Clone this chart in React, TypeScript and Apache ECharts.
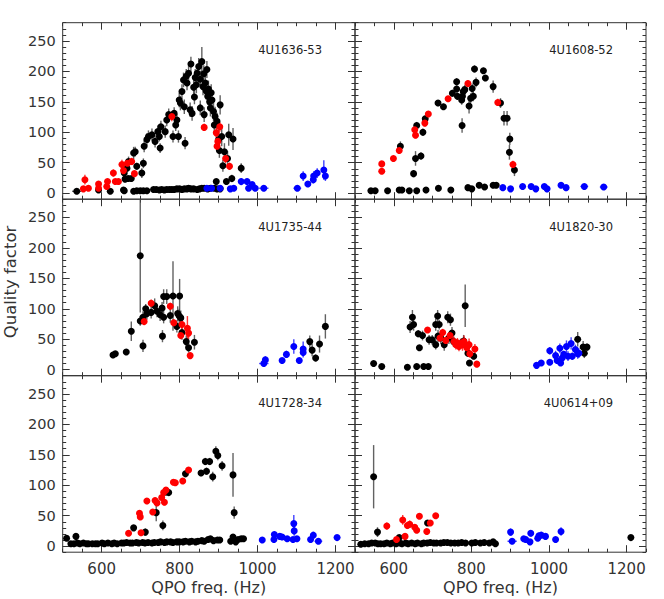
import React, { useEffect, useRef } from "react";
import * as echarts from "echarts";

const panelNames = ["4U1636-53", "4U1608-52", "4U1735-44", "4U1820-30", "4U1728-34", "4U0614+09"];
const xTickValues = [600, 800, 1000, 1200];
const yTickValues = [0, 50, 100, 150, 200, 250];
const xTitle = "QPO freq. (Hz)";
const yTitle = "Quality factor";

// rows: [freq (Hz), Q, dQ, dFreq]
const tlBlack = [
  [536, 3, 1, 12], [592, 5, 2], [622, 3, 2], [656, 5, 2], [658, 4, 2], [682, 3, 2], [690, 4, 2], [699, 4, 2], [707, 4, 2],
  [716, 4, 2], [733, 6, 2], [740, 6, 2], [748, 5, 2], [754, 6, 2], [761, 5, 2], [767, 6, 2], [774, 6, 2],
  [780, 6, 2], [786, 6, 2], [793, 7, 2], [800, 7, 2], [806, 6, 2], [812, 7, 2], [819, 7, 2], [823, 8, 2],
  [829, 7, 2], [836, 7, 2], [845, 6, 2], [851, 7, 2], [857, 8, 2], [863, 8, 2], [872, 7, 2], [879, 8, 2],
  [889, 8, 2], [896, 7, 2], [904, 7, 2],
  [660, 23, 4], [668, 24, 4], [676, 24, 4],
  [658, 33, 6], [665, 41, 6], [669, 52, 8], [682, 66, 10], [686, 68, 8], [690, 44, 6], [703, 33, 8], [707, 49, 8],
  [709, 77, 10], [716, 88, 10], [720, 93, 10], [729, 96, 10], [748, 93, 8], [750, 74, 8], [752, 109, 10],
  [763, 101, 10], [767, 120, 10], [772, 129, 10], [783, 93, 10], [786, 131, 10], [793, 120, 10], [797, 93, 10],
  [799, 153, 12], [802, 148, 12], [806, 167, 12], [810, 186, 12], [812, 142, 12], [814, 82, 10], [819, 181, 12],
  [823, 197, 12], [827, 137, 12], [829, 212, 12], [832, 131, 12], [836, 174, 14], [840, 190, 14], [845, 197, 14],
  [849, 208, 14], [853, 140, 12], [853, 187, 14], [857, 216, 24], [860, 175, 14], [863, 129, 12], [866, 181, 14],
  [870, 203, 14], [872, 159, 14], [874, 171, 14], [879, 140, 14], [883, 153, 16], [887, 134, 16], [891, 126, 16],
  [900, 88, 16], [904, 145, 16], [908, 93, 16], [915, 68, 14], [926, 96, 18], [937, 89, 18], [923, 57, 12],
  [911, 45, 10], [920, 19, 5], [934, 24, 6], [958, 41, 8], [894, 19, 4],
  [817, 192, 12], [843, 178, 14], [862, 196, 14], [868, 168, 14], [877, 150, 14], [881, 165, 14], [889, 112, 14],
  [896, 118, 14], [902, 70, 12], [838, 158, 12], [790, 112, 10], [744, 101, 10], [737, 85, 10],
];
const tlRed = [
  [553, 7, 3], [557, 22, 8], [566, 8, 3], [592, 15, 4], [592, 8, 3], [613, 11, 3], [615, 19, 4], [630, 33, 6],
  [635, 19, 4], [643, 19, 4], [652, 47, 8], [656, 37, 6], [666, 49, 6], [677, 52, 6], [684, 32, 4], [780, 126, 8],
  [863, 108, 6], [894, 99, 8], [896, 77, 6], [898, 85, 8], [903, 109, 8], [918, 57, 8], [928, 44, 6],
];
const tlBlue = [
  [870, 8, 2, 10], [882, 8, 2, 8], [904, 8, 2, 8], [930, 7, 2, 8], [939, 8, 2, 8], [958, 19, 6, 8], [973, 19, 5, 8],
  [977, 8, 2, 8], [986, 14, 4, 8], [994, 8, 2, 8], [1016, 8, 2, 12], [1102, 8, 2, 10], [1117, 28, 8, 5],
  [1129, 15, 4, 5], [1143, 22, 6, 5], [1144, 28, 8, 5], [1153, 33, 8, 5], [1170, 38, 16, 5], [1174, 28, 8, 5],
];

const trBlack = [
  [617, 77, 8], [651, 32, 6], [656, 57, 12], [659, 111, 6], [670, 61, 6], [675, 100, 6], [681, 122, 6], [714, 148, 5],
  [728, 142, 5], [751, 164, 6], [762, 183, 6], [762, 171, 6], [764, 159, 6], [775, 153, 8], [777, 159, 8],
  [779, 167, 8], [783, 170, 8], [776, 111, 12], [794, 143, 12], [798, 156, 8], [802, 172, 8], [805, 159, 8],
  [808, 204, 6], [812, 182, 8], [831, 201, 5], [836, 189, 5], [856, 175, 10], [875, 148, 8], [884, 123, 12],
  [892, 123, 12], [899, 89, 10], [898, 67, 12], [911, 38, 10],
  [541, 4, 1, 8], [552, 4, 1, 6], [584, 4, 1, 6], [614, 5, 1, 5], [621, 5, 1, 5], [640, 4, 1, 5], [659, 4, 1, 5],
  [683, 5, 1, 5], [715, 8, 2, 6], [747, 5, 2, 6], [791, 9, 2, 5], [801, 7, 2, 5], [820, 13, 2, 5], [834, 10, 2, 5],
  [856, 13, 2, 6], [864, 13, 2, 5],
];
const trRed = [
  [569, 36, 3], [569, 48, 4], [599, 57, 4], [614, 70, 5], [654, 104, 5], [656, 95, 5], [680, 115, 5], [689, 130, 5],
  [740, 155, 5], [791, 180, 6], [868, 149, 6], [907, 47, 6],
];
const trBlue = [
  [881, 9, 3, 6], [901, 7, 2, 6], [932, 11, 2, 6], [954, 11, 2, 6], [966, 7, 2, 6], [988, 11, 3, 6], [995, 7, 2, 8],
  [1031, 13, 3, 8], [1044, 9, 2, 8], [1091, 11, 2, 10], [1141, 10, 2, 10],
];

const mlBlack = [
  [629, 24, 4], [635, 26, 4], [663, 29, 4], [676, 63, 16], [699, 187, 93], [699, 80, 8], [706, 39, 10], [706, 86, 10],
  [713, 100, 8], [716, 92, 10], [727, 94, 10], [736, 105, 12], [742, 96, 10], [750, 90, 10], [755, 101, 10],
  [756, 55, 10], [759, 86, 10], [759, 120, 12], [767, 120, 12], [776, 89, 12], [783, 121, 57], [793, 71, 10],
  [795, 92, 12], [800, 121, 28], [799, 88, 12], [803, 85, 12], [806, 61, 12], [817, 46, 10], [823, 36, 8],
  [838, 45, 12], [1134, 46, 10], [1140, 32, 10], [1149, 19, 6], [1159, 42, 14], [1174, 71, 20],
];
const mlRed = [
  [709, 79, 6], [727, 109, 6], [776, 104, 6], [785, 77, 6], [803, 56, 6], [806, 74, 8], [820, 68, 20], [823, 60, 10],
  [827, 23, 5],
];
const mlBlue = [
  [1016, 10, 3, 12], [1020, 16, 6, 4], [1063, 15, 4, 4], [1074, 25, 6, 4], [1093, 38, 12, 4], [1107, 15, 4, 4],
  [1117, 34, 12, 4], [1117, 28, 8, 4],
];

const mrBlack = [
  [548, 10, 2], [569, 5, 1, 6], [635, 4, 1, 8], [659, 5, 1, 4], [677, 5, 1, 4], [689, 5, 1, 4], [642, 70, 10],
  [648, 86, 12], [651, 74, 10], [663, 59, 6], [674, 56, 8], [666, 36, 4], [691, 49, 8], [699, 49, 8], [708, 74, 10],
  [713, 88, 10], [717, 74, 8], [708, 41, 8], [714, 55, 10], [721, 52, 10], [730, 41, 10], [739, 86, 10],
  [746, 82, 10], [742, 52, 10], [750, 60, 10], [754, 46, 8], [784, 105, 35], [780, 47, 10], [791, 27, 6],
  [795, 11, 3], [806, 22, 5], [1074, 50, 12], [1088, 37, 10], [1091, 27, 8], [1098, 37, 6],
];
const mrRed = [
  [687, 65, 4], [719, 52, 6], [726, 61, 6], [734, 48, 6], [745, 56, 6], [755, 46, 8], [760, 41, 8], [764, 44, 8],
  [768, 38, 8], [772, 43, 8], [777, 41, 10], [781, 46, 10], [788, 36, 10], [794, 41, 10], [796, 26, 6], [809, 34, 8],
  [814, 9, 2, 6],
];
const mrBlue = [
  [968, 7, 2, 8], [980, 11, 2, 4], [1002, 12, 3, 4], [1002, 31, 6, 3], [1017, 23, 8, 3], [1021, 15, 4, 3],
  [1028, 35, 8, 3], [1030, 11, 3, 3], [1034, 19, 6, 3], [1038, 25, 6, 3], [1045, 38, 10, 3], [1049, 22, 8, 3],
  [1057, 43, 10, 3], [1060, 22, 6, 3], [1068, 33, 8, 3], [1074, 26, 8, 3], [1077, 27, 8, 3],
];

const blBlack = [
  [510, 13, 3], [534, 16, 5], [682, 30, 4], [712, 23, 6], [740, 55, 14], [757, 34, 8], [765, 89, 6], [772, 88, 6],
  [815, 119, 6], [855, 120, 5], [866, 139, 6], [877, 139, 6], [869, 123, 6], [885, 114, 8], [893, 156, 8],
  [898, 149, 8], [909, 132, 8], [937, 117, 36], [940, 55, 10],
  [521, 4, 1, 6], [529, 4, 1], [538, 5, 1], [544, 4, 1], [553, 5, 1], [561, 4, 1], [566, 4, 1], [576, 4, 1],
  [584, 4, 1], [590, 4, 1], [601, 5, 1], [607, 4, 1], [616, 5, 1], [626, 4, 1], [632, 5, 1], [640, 4, 1],
  [651, 5, 1], [657, 5, 1], [664, 6, 1], [673, 5, 1], [679, 5, 1], [689, 6, 1], [695, 5, 1], [705, 6, 1],
  [711, 5, 1], [719, 6, 1], [729, 5, 1], [735, 6, 1], [745, 6, 1], [751, 7, 1], [761, 6, 1], [767, 7, 1],
  [777, 7, 1], [783, 6, 1], [793, 7, 1], [799, 7, 1], [809, 7, 1], [815, 8, 1], [825, 7, 1], [831, 8, 1],
  [841, 7, 1], [847, 8, 1], [857, 9, 1], [863, 8, 2], [873, 11, 2], [879, 12, 2], [887, 9, 2], [897, 10, 2],
  [903, 10, 2], [931, 8, 2], [937, 15, 3], [944, 7, 2], [950, 11, 2], [958, 12, 2], [964, 12, 2],
];
const blRed = [
  [669, 21, 3], [697, 54, 5], [699, 48, 4], [701, 22, 3], [716, 74, 4], [731, 56, 5], [737, 75, 5], [742, 71, 5],
  [754, 80, 5], [759, 88, 5], [761, 72, 5], [765, 92, 5], [784, 105, 4], [789, 104, 4], [808, 107, 4], [823, 125, 4],
];
const blBlue = [
  [1012, 10, 3, 6], [1042, 11, 2, 5], [1043, 19, 5, 4], [1057, 16, 3, 4], [1063, 15, 3, 4], [1076, 12, 3, 5],
  [1091, 11, 3, 5], [1093, 37, 14, 3], [1094, 25, 8, 3], [1101, 12, 3, 4], [1136, 11, 3, 6], [1143, 18, 5, 5],
  [1156, 8, 2, 10], [1204, 14, 2, 8],
];

const brBlack = [
  [548, 114, 52], [558, 23, 8], [687, 38, 4], [614, 14, 3], [1211, 14, 3, 6],
  [515, 3, 1, 8], [525, 4, 1], [535, 4, 1], [543, 5, 1], [552, 5, 1], [559, 4, 1], [566, 4, 1], [575, 4, 1],
  [582, 5, 1], [591, 4, 1], [597, 5, 1], [606, 4, 1], [615, 5, 1], [621, 4, 1], [631, 5, 1], [637, 4, 1],
  [646, 5, 1], [655, 4, 1], [661, 5, 1], [671, 4, 1], [677, 5, 1], [686, 5, 1], [694, 6, 1], [703, 5, 1],
  [710, 5, 1], [721, 5, 1], [729, 6, 1], [738, 6, 1], [747, 5, 1], [757, 5, 1], [766, 5, 1], [775, 6, 1],
  [785, 5, 1], [801, 5, 1], [810, 6, 1], [823, 5, 1], [833, 6, 1], [846, 5, 1], [856, 7, 1], [862, 4, 1, 8],
];
const brRed = [
  [582, 33, 6], [607, 11, 3], [623, 43, 8], [629, 16, 3], [635, 34, 6], [641, 36, 6], [654, 31, 4], [659, 26, 4],
  [666, 49, 4], [685, 24, 3], [694, 38, 4], [708, 50, 4],
];
const brBlue = [
  [901, 23, 6, 4], [905, 8, 2, 12], [935, 12, 3, 6], [940, 11, 3, 6], [951, 7, 2, 6], [953, 21, 5, 4],
  [971, 13, 3, 6], [974, 17, 5, 4], [980, 18, 4, 5], [991, 16, 3, 5], [1017, 11, 2, 6], [1031, 24, 7, 4],
];

const panelData = [
  [tlBlack, tlRed, tlBlue],
  [trBlack, trRed, trBlue],
  [mlBlack, mlRed, mlBlue],
  [mrBlack, mrRed, mrBlue],
  [blBlack, blRed, blBlue],
  [brBlack, brRed, brBlue],
];

const dotColors = ["#000000", "#ff0000", "#0000ff"];
const barColors = ["rgba(70,70,70,0.85)", "rgba(255,0,0,0.8)", "rgba(0,0,255,0.75)"];

function norm(rows: number[][]) {
  return rows.map((r) => [r[0], r[1], r[2] ?? 0, r[3] ?? 0]);
}

const FONT = "DejaVu Sans";
const AX = "#333333";

function buildOption() {
  const grids: any[] = [];
  const xAxes: any[] = [];
  const yAxes: any[] = [];
  const series: any[] = [];
  const graphics: any[] = [];
  const rowTops = [22.7, 199.2, 375.7];
  const H = 176.5;
  for (let i = 0; i < 6; i++) {
    const col = i % 2;
    const row = Math.floor(i / 2);
    const left = col === 0 ? 62.7 : 355;
    const width = col === 0 ? 292.3 : 291;
    const top = rowTops[row];
    grids.push({ left, top, width, height: H, show: true, borderColor: AX, borderWidth: 1, backgroundColor: "transparent" });
    const isBottom = row === 2;
    const isLeft = col === 0;
    const tickStyle = { color: AX, width: 1 };
    const baseX = {
      type: "value", gridIndex: i, min: 500, max: 1250,
      axisLine: { show: false, onZero: false }, splitLine: { show: false },
    };
    const baseY = {
      type: "value", gridIndex: i, min: -10, max: 280,
      axisLine: { show: false, onZero: false }, splitLine: { show: false },
    };
    const xMajor = (position: string, labels: boolean) => ({
      ...baseX, position,
      axisTick: { show: true, inside: true, length: 7, customValues: xTickValues, lineStyle: tickStyle },
      axisLabel: {
        show: labels, customValues: xTickValues, margin: 9, fontSize: 15, color: AX, fontFamily: FONT,
        formatter: (v: number) => String(v),
      },
    });
    const xMinor = (position: string) => ({
      ...baseX, position, interval: 50,
      axisTick: { show: true, inside: true, length: 3.5, lineStyle: tickStyle },
      axisLabel: { show: false },
    });
    const yMajor = (position: string, labels: boolean) => ({
      ...baseY, position,
      axisTick: { show: true, inside: true, length: 7, customValues: yTickValues, lineStyle: tickStyle },
      axisLabel: {
        show: labels, customValues: yTickValues, margin: 7, fontSize: 14.5, color: AX, fontFamily: FONT,
        formatter: (v: number) => String(v),
      },
    });
    const yMinor = (position: string) => ({
      ...baseY, position, interval: 10,
      axisTick: { show: true, inside: true, length: 3.5, lineStyle: tickStyle },
      axisLabel: { show: false },
    });
    xAxes.push(xMajor("bottom", isBottom), xMinor("bottom"), xMajor("top", false), xMinor("top"));
    yAxes.push(yMajor("left", isLeft), yMinor("left"), yMajor("right", false), yMinor("right"));

    const xi = 4 * i;
    const yi = 4 * i;
    panelData[i].forEach((rows, c) => {
      const color = barColors[c];
      series.push({
        type: "custom",
        xAxisIndex: xi,
        yAxisIndex: yi,
        silent: true,
        z: 2,
        encode: { x: 0, y: 1 },
        data: norm(rows),
        renderItem: (params: any, api: any) => {
          const f = api.value(0);
          const q = api.value(1);
          const dq = api.value(2);
          const df = api.value(3);
          const cs = params.coordSys;
          const p = api.coord([f, q]);
          const children: any[] = [];
          if (dq > 0) {
            const yTop = Math.max(cs.y, api.coord([f, q + dq])[1]);
            const yBot = Math.min(cs.y + cs.height, api.coord([f, q - dq])[1]);
            children.push({ type: "line", shape: { x1: p[0], y1: yTop, x2: p[0], y2: yBot }, style: { stroke: color, lineWidth: 1.4 } });
          }
          if (df > 0) {
            const xl = Math.max(cs.x, api.coord([f - df, q])[0]);
            const xr = Math.min(cs.x + cs.width, api.coord([f + df, q])[0]);
            children.push({ type: "line", shape: { x1: xl, y1: p[1], x2: xr, y2: p[1] }, style: { stroke: color, lineWidth: 1.4 } });
          }
          return { type: "group", children };
        },
      });
    });
    panelData[i].forEach((rows, c) => {
      series.push({
        type: "scatter",
        xAxisIndex: xi,
        yAxisIndex: yi,
        symbol: "circle",
        symbolSize: 7,
        z: c === 0 ? 3 : 4,
        itemStyle: { color: dotColors[c], opacity: 1 },
        data: rows.map((r) => [r[0], r[1]]),
        silent: true,
      });
    });

    graphics.push({
      type: "text",
      x: left + width - 33,
      y: top + 27.5,
      style: {
        text: panelNames[i], fill: "#222222", font: `11.5px "${FONT}"`,
        align: "right", verticalAlign: "middle", textAlign: "right", textVerticalAlign: "middle",
      },
    });
  }
  graphics.push({
    type: "text", x: 208.8, y: 587, style: { text: xTitle, fill: AX, font: `16px "${FONT}"`, align: "center", verticalAlign: "middle", textAlign: "center", textVerticalAlign: "middle" },
  });
  graphics.push({
    type: "text", x: 500.5, y: 587, style: { text: xTitle, fill: AX, font: `16px "${FONT}"`, align: "center", verticalAlign: "middle", textAlign: "center", textVerticalAlign: "middle" },
  });
  graphics.push({
    type: "text", x: 10, y: 282, rotation: Math.PI / 2,
    style: { text: yTitle, fill: AX, font: `16.5px "${FONT}"`, align: "center", verticalAlign: "middle", textAlign: "center", textVerticalAlign: "middle" },
  });

  return {
    animation: false,
    backgroundColor: "#ffffff",
    grid: grids,
    xAxis: xAxes,
    yAxis: yAxes,
    series,
    graphic: graphics,
  };
}

export default function App() {
  const ref = useRef<HTMLDivElement>(null);
  useEffect(() => {
    document.body.style.margin = "0";
    if (!ref.current) return;
    const chart = echarts.init(ref.current, undefined, { renderer: "svg" });
    chart.setOption(buildOption() as any);
    return () => chart.dispose();
  }, []);
  return <div ref={ref} style={{ position: "absolute", left: 0, top: 0, width: 664, height: 599 }} />;
}
